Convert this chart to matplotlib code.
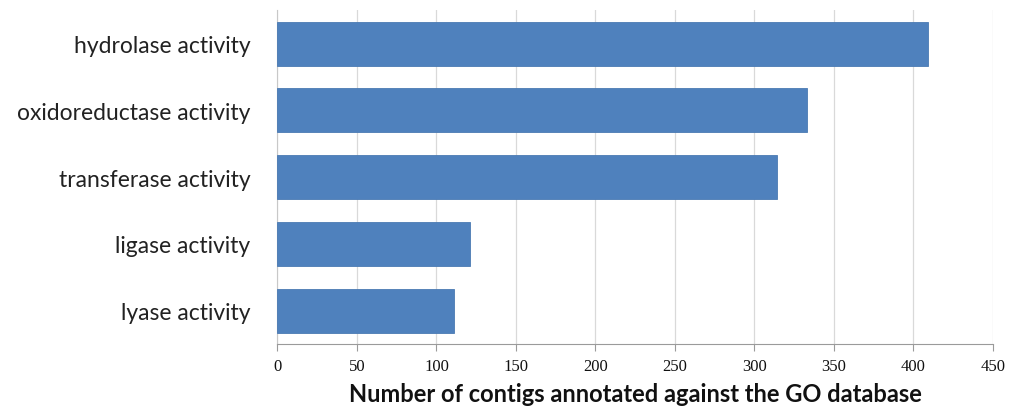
import matplotlib
matplotlib.use("Agg")
import matplotlib.pyplot as plt
import numpy as np

# values
categories = ["hydrolase activity", "oxidoreductase activity", "transferase activity",
              "ligase activity", "lyase activity"]
counts = [409, 333, 314, 121, 111]
xticks = [0, 50, 100, 150, 200, 250, 300, 350, 400, 450]

fig = plt.figure(figsize=(10.12, 4.14), dpi=100)
ax = fig.add_axes([0.2742, 0.1667, 0.9812 - 0.2742, 0.9725 - 0.1667])

y = np.arange(len(categories))
ax.barh(y, counts, height=0.66, color="#4F81BD", edgecolor="#4A7AB3", linewidth=0.6, zorder=3)

ax.set_ylim(len(categories) - 0.5, -0.5)
ax.set_xlim(0, 450)
ax.set_xticks(xticks)
ax.set_xticklabels([str(t) for t in xticks], family="Liberation Serif", fontsize=12,
                   color="#111111")
ax.set_yticks(y)
ax.set_yticklabels(categories, family="Lato", fontsize=16.5, color="#222222")

ax.grid(axis="x", color="#D9D9D9", linewidth=0.9, zorder=0)
for s in ["top", "right"]:
    ax.spines[s].set_visible(False)
ax.spines["left"].set_color("#C8C8C8")
ax.spines["bottom"].set_color("#9A9A9A")
ax.tick_params(axis="x", length=5, color="#9A9A9A", pad=5)
ax.tick_params(axis="y", length=0, pad=19.5)

ax.set_xlabel("Number of contigs annotated against the GO database", family="Lato",
              fontsize=17, fontweight="bold", color="#111111", labelpad=6)

fig.savefig("out.png", dpi=100)
